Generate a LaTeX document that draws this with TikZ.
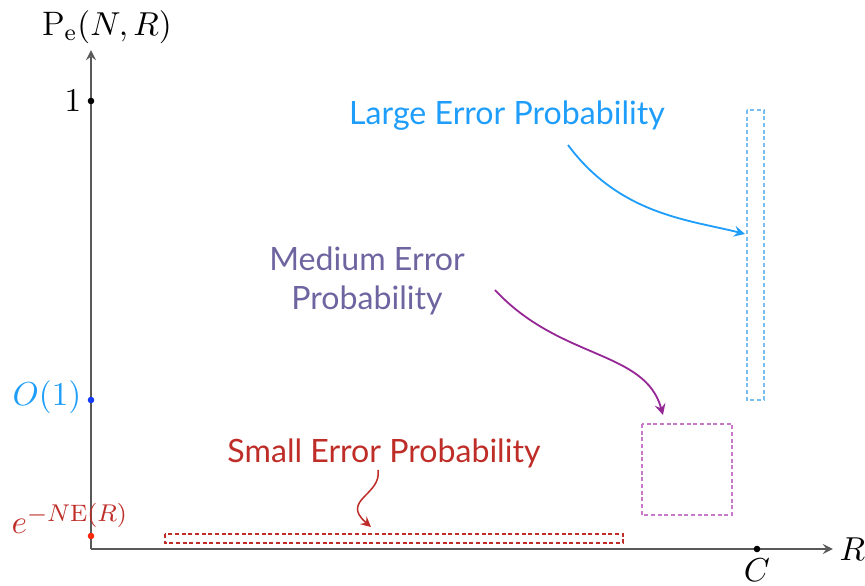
\documentclass[tikz,border=0pt]{standalone}
\usepackage{amsmath}
\usepackage{fontspec}
\newfontfamily\labelfont{Lato}
\usetikzlibrary{arrows.meta}
\definecolor{largeblue}{RGB}{30,158,250}
\definecolor{lightbox}{RGB}{120,190,240}
\definecolor{medtext}{RGB}{110,100,160}
\definecolor{medarrow}{RGB}{150,40,150}
\definecolor{medbox}{RGB}{200,120,200}
\definecolor{smallred}{RGB}{190,45,40}
\definecolor{dotblue}{RGB}{20,60,255}
\definecolor{dotred}{RGB}{255,40,10}

\begin{document}
\begin{tikzpicture}[x=0.33pt,y=-0.33pt,
    axis/.style={->,>=stealth,draw=black!65,line width=0.5pt},
    region/.style={dash pattern=on 1.3pt off 0.9pt,line width=0.45pt},
    pointer/.style={->,>=stealth,line width=0.6pt},
    mathlab/.style={font=\fontsize{11.2}{13}\selectfont},
    caption/.style={font=\labelfont\fontsize{10.6}{13}\selectfont,align=center,inner sep=0pt}]
    \useasboundingbox (0,0) rectangle (865,586);
    % axes
    \coordinate (origin) at (91,549);
    \coordinate (ytop) at (91,50);
    \coordinate (xend) at (833,549);
    \draw[axis](origin)--(ytop);
    \draw[axis](origin)--(xend);
    \node[mathlab] (ylab) at (107,27) {$\mathrm{P}_{\mathrm{e}}(N,R)$};
    \node[mathlab,right,inner sep=2pt] (xlab) at (xend) {$R$};
    % ticks on the axes
    \fill (91,101) circle (3.3) node[mathlab,left,inner sep=3pt] (one) {$1$};
    \fill[dotblue] (91,400) circle (3.3);
    \node[mathlab,left,inner sep=3pt,text=largeblue] (orderone) at (91,397) {$O(1)$};
    \fill[dotred] (91,536) circle (3.3);
    \node[mathlab,text=smallred] (expo) at (70,518) {$e^{-N\mathrm{E}(R)}$};
    \fill (757,549) circle (3.3) node[mathlab,below,inner sep=3pt] (cap) {$C$};
    % the three regions
    \draw[region,draw=smallred,line width=0.55pt] (165,534) rectangle (623,543);
    \draw[region,draw=medbox] (642,424) rectangle (732,515);
    \draw[region,draw=lightbox] (747,110) rectangle (764,400);
    % captions and pointers
    \node[caption,text=largeblue] (large) at (507,116) {Large Error Probability};
    \node[caption,text=medtext] (medium) at (367,281) {Medium Error\\Probability};
    \node[caption,text=smallred] (small) at (384,453) {Small Error Probability};
    \coordinate (largeA) at (568,145);
    \coordinate (largeB) at (745,234);
    \coordinate (mediumA) at (495,290);
    \coordinate (mediumB) at (663,415);
    \coordinate (smallA) at (378,470);
    \coordinate (smallB) at (371,527);
    \draw[pointer,largeblue](largeA)..controls (620,215) and (690,220)..(largeB);
    \draw[pointer,medarrow](mediumA)..controls (560,360) and (645,350)..(mediumB);
    \draw[pointer,smallred,line width=0.5pt](smallA)..controls (382,495) and (340,500)..(smallB);
\end{tikzpicture}
\end{document}
